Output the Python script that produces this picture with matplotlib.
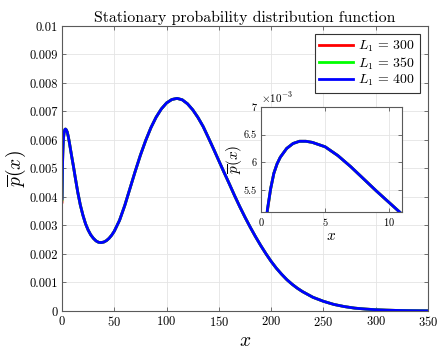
import matplotlib.pyplot as plt

plt.rcParams['font.family'] = ['cmr10', 'DejaVu Serif']
plt.rcParams['mathtext.fontset'] = 'cm'
plt.rcParams['axes.formatter.use_mathtext'] = True

# stationary distribution, values in units of 1e-3
x_vals = [0, 0.5, 0.75, 1, 1.25, 1.5, 2, 2.5, 3, 3.5, 4, 5, 6, 7, 8, 9, 10, 11,
          12.5, 15, 17.5, 20, 22.5, 25, 27.5, 30, 32.5, 35, 37.5, 40, 42.5, 45,
          47.5, 50, 55, 60, 65, 70, 75, 80, 85, 90, 95, 100, 105, 110, 115, 120,
          125, 130, 135, 140, 145, 150, 155, 160, 165, 170, 175, 180, 185, 190,
          195, 200, 205, 210, 215, 220, 225, 230, 240, 250, 260, 270, 280, 290,
          300, 310, 320, 330, 340, 350]
p_400 = [3.95, 5.15, 5.52, 5.80, 5.97, 6.09, 6.25, 6.34, 6.38, 6.38, 6.36, 6.28,
         6.12, 5.92, 5.70, 5.48, 5.27, 5.06, 4.72, 4.18, 3.72, 3.36, 3.06, 2.84,
         2.67, 2.55, 2.46, 2.41, 2.40, 2.42, 2.47, 2.55, 2.66, 2.80, 3.18, 3.70,
         4.30, 4.90, 5.47, 5.98, 6.43, 6.80, 7.09, 7.30, 7.42, 7.46, 7.41, 7.27,
         7.06, 6.79, 6.47, 6.08, 5.68, 5.27, 4.86, 4.46, 4.05, 3.66, 3.29, 2.94,
         2.61, 2.30, 2.01, 1.74, 1.50, 1.29, 1.10, 0.94, 0.80, 0.68, 0.48, 0.34,
         0.23, 0.155, 0.10, 0.068, 0.045, 0.03, 0.02, 0.013, 0.009, 0.006]
p_350 = [3.90, 5.14] + p_400[2:]
p_300 = [3.82, 5.12] + p_400[2:]

series = [(p_300, '#ff0000', r'$L_1\,=\,300$'),
          (p_350, '#00ff00', r'$L_1\,=\,350$'),
          (p_400, '#0000ff', r'$L_1\,=\,400$')]

xticks = [0, 50, 100, 150, 200, 250, 300, 350]
yticks = [0, 0.001, 0.002, 0.003, 0.004, 0.005, 0.006, 0.007, 0.008, 0.009, 0.01]
ytick_labels = ['0', '0.001', '0.002', '0.003', '0.004', '0.005', '0.006',
                '0.007', '0.008', '0.009', '0.01']
inset_xticks = [0, 5, 10]
inset_yticks = [5.5e-3, 6e-3, 6.5e-3, 7e-3]
inset_ytick_labels = ['5.5', '6', '6.5', '7']

spine_col = '#5a5a5a'


def style_axes(ax, size):
    ax.tick_params(direction='in', top=True, right=True, labelsize=size,
                   color=spine_col, length=3, width=0.6, pad=3)
    for s in ax.spines.values():
        s.set_color(spine_col)
        s.set_linewidth(0.8)
    ax.grid(True, color='#e4e4e4', linewidth=0.6)
    ax.set_axisbelow(True)


fig = plt.figure(figsize=(4.37, 3.52), dpi=100)
ax = fig.add_axes([0.1419, 0.1165, 0.8375, 0.8097])
for p, c, lab in series:
    ax.plot(x_vals, [v * 1e-3 for v in p], color=c, lw=2, label=lab)
ax.set_xlim(0, 350)
ax.set_ylim(0, 0.01)
ax.set_xticks(xticks)
ax.set_yticks(yticks)
ax.set_yticklabels(ytick_labels)
style_axes(ax, 9)
ax.set_xlabel('$x$', fontsize=14, labelpad=2)
ax.set_ylabel(r'$\overline{p}(x)$', fontsize=14, labelpad=1)
ax.set_title('Stationary probability distribution function', fontsize=11.4, pad=3)
leg = ax.legend(loc='upper right', fontsize=10, fancybox=False, framealpha=1,
                edgecolor='#333333', handlelength=2.4, borderaxespad=0.6,
                labelspacing=0.1, handletextpad=0.4, borderpad=0.3)
leg.get_frame().set_linewidth(0.8)

# zoom on the first peak
ins = fig.add_axes([0.5973, 0.3977, 0.3227, 0.2983])
for p, c, lab in series:
    ins.plot(x_vals, [v * 1e-3 for v in p], color=c, lw=2)
ins.set_xlim(0, 11)
ins.set_ylim(5.1e-3, 7e-3)
ins.set_xticks(inset_xticks)
ins.set_yticks(inset_yticks)
ins.set_yticklabels(inset_ytick_labels)
style_axes(ins, 7.5)
ins.text(0.0, 1.02, r'$\times10^{-3}$', transform=ins.transAxes, fontsize=8,
         ha='left', va='bottom')
ins.set_xlabel('$x$', fontsize=11, labelpad=1)
ins.set_ylabel(r'$\overline{p}(x)$', fontsize=11, labelpad=0)

fig.savefig('out.png', dpi=100)
